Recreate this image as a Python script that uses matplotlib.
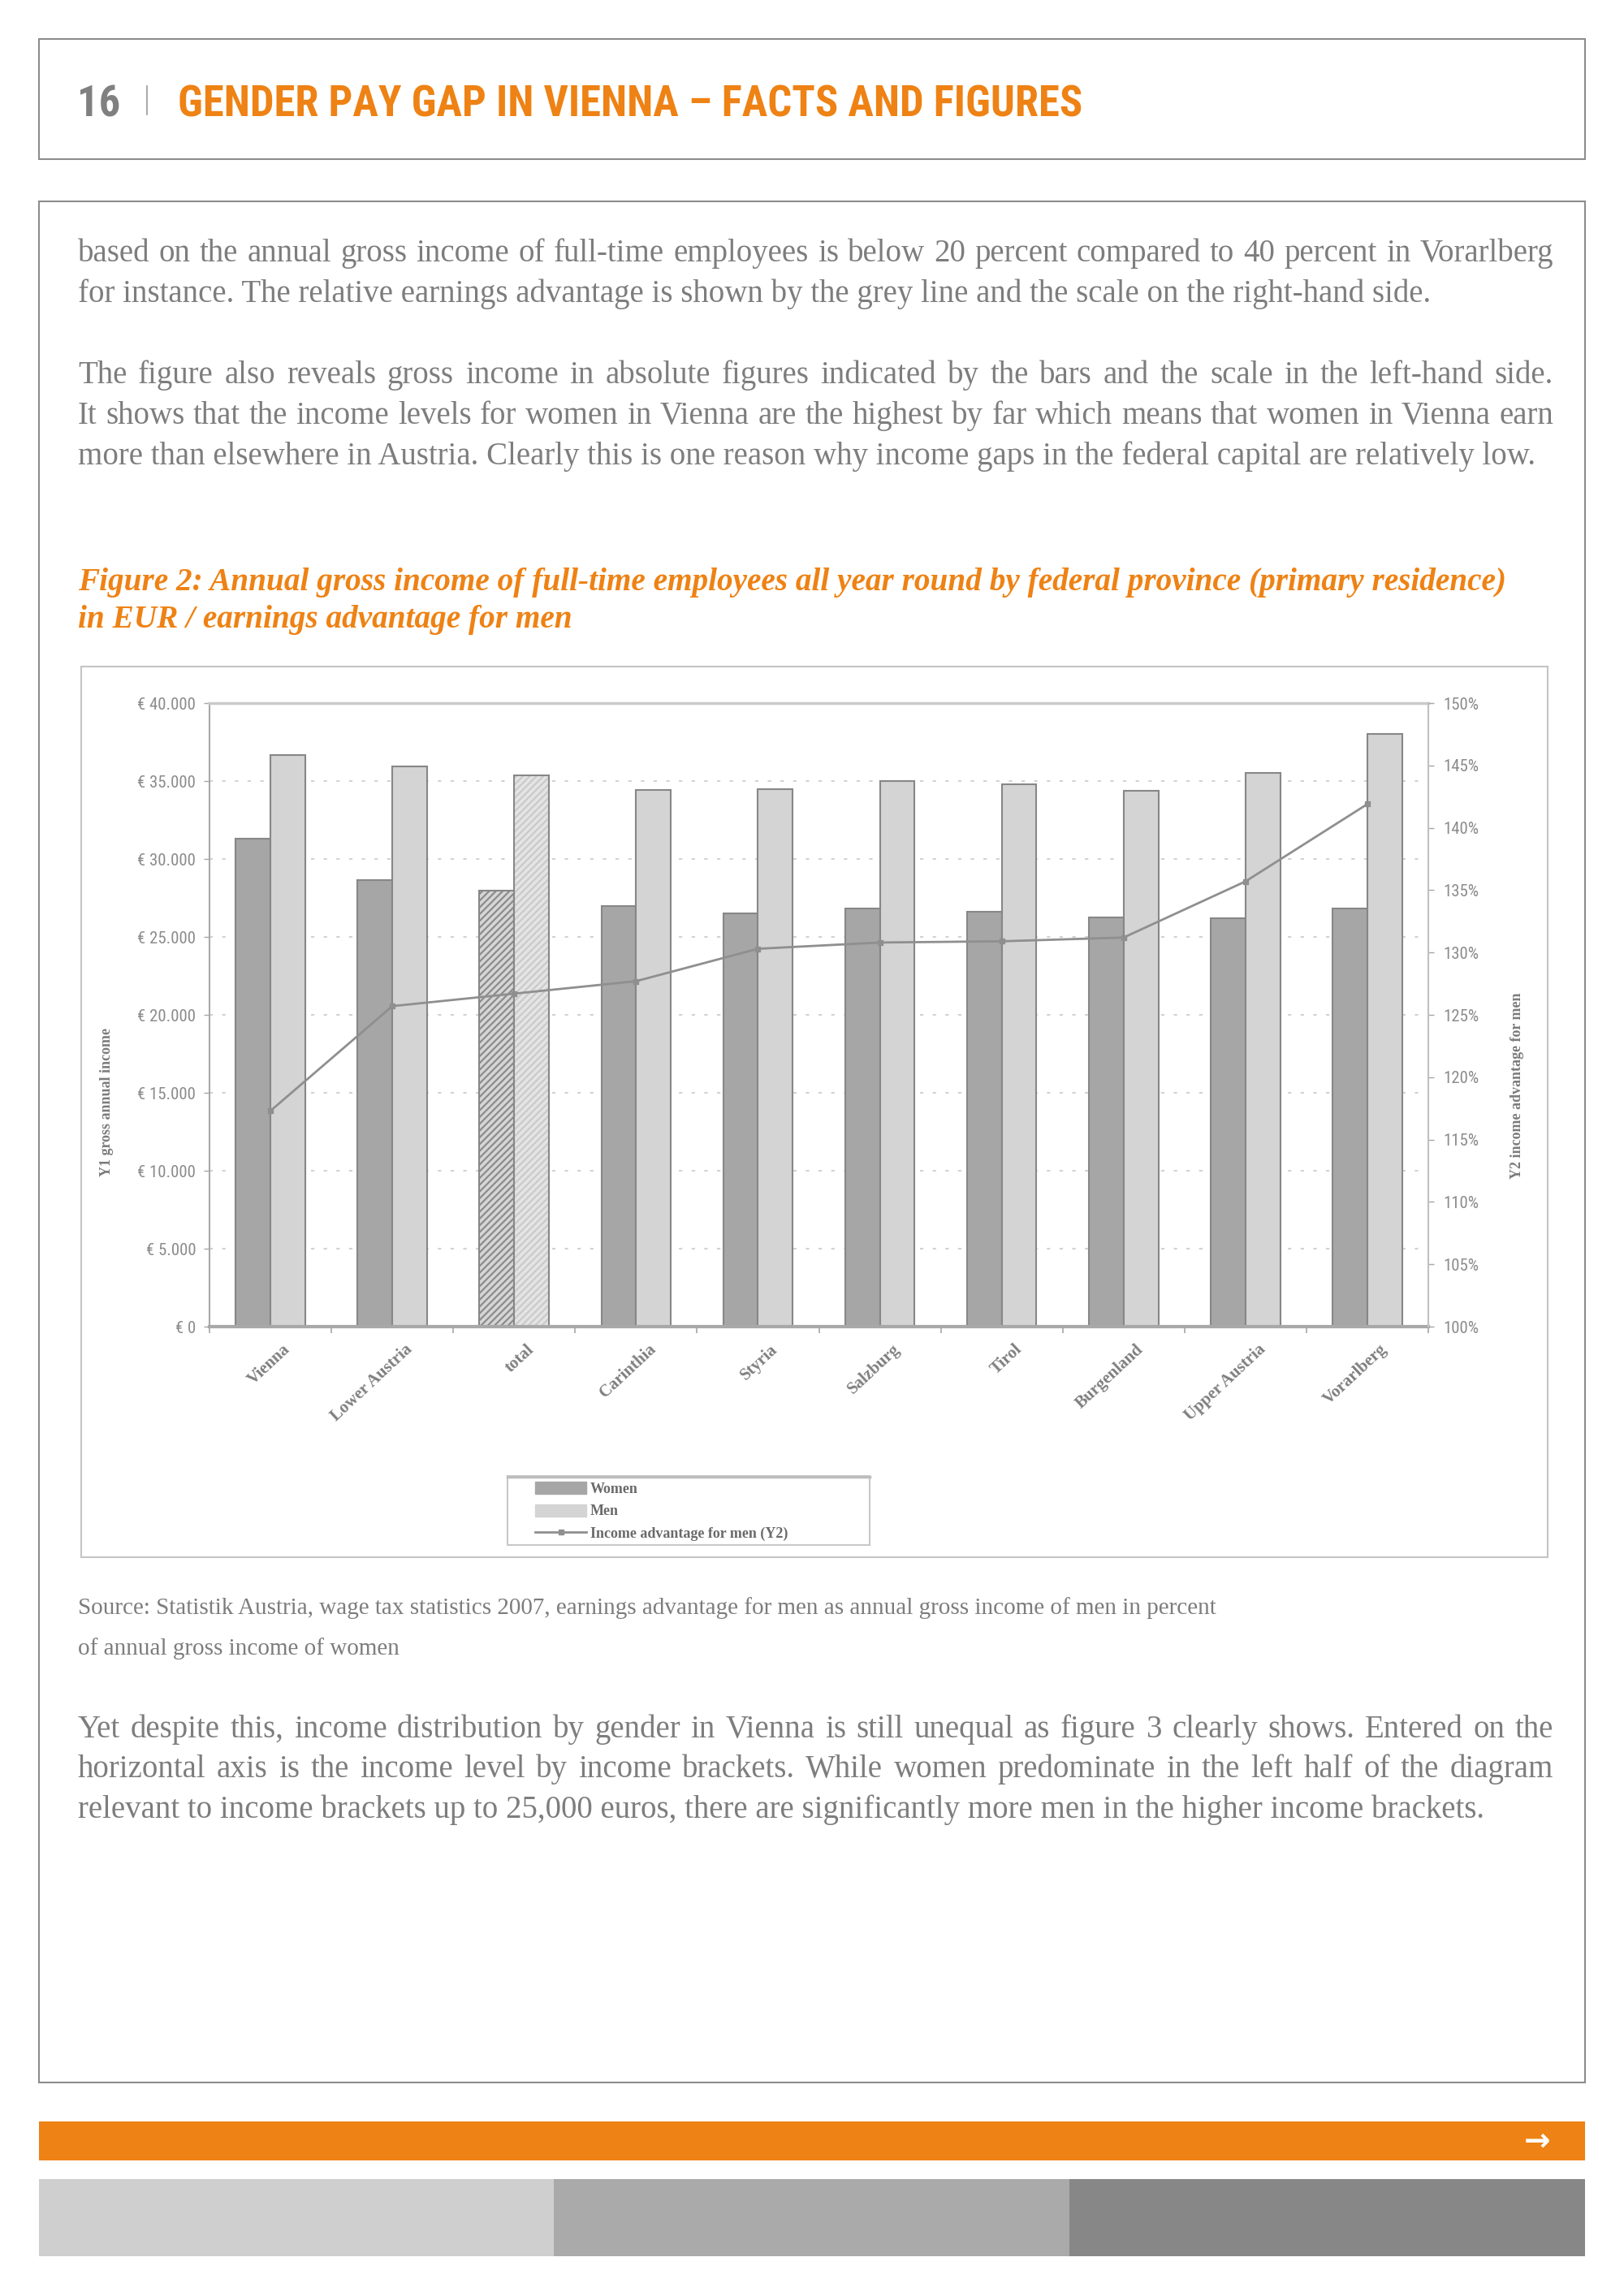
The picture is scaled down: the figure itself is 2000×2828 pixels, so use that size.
import numpy as np
import matplotlib
matplotlib.use('Agg')
import matplotlib.pyplot as plt
from matplotlib import font_manager
from matplotlib.patches import Rectangle, Patch
from matplotlib.lines import Line2D
from matplotlib.transforms import ScaledTranslation

W, H = 2000, 2828

# chart data
provinces = ['Vienna', 'Lower Austria', 'total', 'Carinthia', 'Styria',
             'Salzburg', 'Tirol', 'Burgenland', 'Upper Austria', 'Vorarlberg']
women = [31300, 28650, 27950, 27000, 26500, 26800, 26600, 26250, 26200, 26800]
men = [36650, 35950, 35350, 34450, 34500, 35000, 34800, 34350, 35500, 38000]
advantage = [117.3, 125.7, 126.7, 127.7, 130.3, 130.8, 130.9, 131.2, 135.7, 141.9]
y1_ticks = list(range(0, 40001, 5000))
y2_ticks = list(range(100, 151, 5))
legend_labels = ['Women', 'Men', 'Income advantage for men (Y2)']

# page text
header_num = '16'
header_title = 'GENDER PAY GAP IN VIENNA \u2013 FACTS AND FIGURES'
para1 = ['based on the annual gross income of full-time employees is below 20 percent compared to 40 percent in Vorarlberg',
         'for instance. The relative earnings advantage is shown by the grey line and the scale on the right-hand side.']
para2 = ['The figure also reveals gross income in absolute figures indicated by the bars and the scale in the left-hand side.',
         'It shows that the income levels for women in Vienna are the highest by far which means that women in Vienna earn',
         'more than elsewhere in Austria. Clearly this is one reason why income gaps in the federal capital are relatively low.']
caption = ['Figure 2: Annual gross income of full-time employees all year round by federal province (primary residence)',
           'in EUR / earnings advantage for men']
source = ['Source: Statistik Austria, wage tax statistics 2007, earnings advantage for men as annual gross income of men in percent',
          'of annual gross income of women']
para3 = ['Yet despite this, income distribution by gender in Vienna is still unequal as figure 3 clearly shows. Entered on the',
         'horizontal axis is the income level by income brackets. While women predominate in the left half of the diagram',
         'relevant to income brackets up to 25,000 euros, there are significantly more men in the higher income brackets.']

ORANGE = '#ee8214'
TEXT_GREY = '#7d7d7d'
SERIF = 'Liberation Serif'
installed = {f.name for f in font_manager.fontManager.ttflist}
NARROW = dict(family='DejaVu Sans', stretch='condensed')
for cand in ['Liberation Sans Narrow', 'Roboto Condensed', 'Noto Sans Condensed',
             'Open Sans Condensed']:
    if cand in installed:
        NARROW = dict(family=cand)
        break


def fx(x):
    return x / W


def fy(y):
    return 1 - y / H


def add_text(fig, x, y, s, **kw):
    return fig.text(fx(x), fy(y), s, **kw)


def text_width(fig, s, **kw):
    t = fig.text(0, 0, s, **kw)
    w = t.get_window_extent(fig.canvas.get_renderer()).width
    t.remove()
    return w


def fit_size(fig, s, target, **kw):
    """Font size that makes s exactly target pixels wide."""
    return 20 * target / text_width(fig, s, fontsize=20, **kw)


def justified(fig, line, x0, x1, y, **kw):
    words = line.split(' ')
    r = fig.canvas.get_renderer()
    texts = [add_text(fig, x0, y, w, va='baseline', **kw) for w in words]
    widths = [t.get_window_extent(r).width for t in texts]
    gap = (x1 - x0 - sum(widths)) / (len(words) - 1)
    x = x0
    for t, w in zip(texts, widths):
        t.set_x(fx(x))
        x += w + gap


def box(fig, x0, y0, x1, y1, **kw):
    fig.add_artist(Rectangle((fx(x0), fy(y1)), (x1 - x0) / W, (y1 - y0) / H,
                             transform=fig.transFigure, **kw))


def draw_page(fig):
    box(fig, 48, 48, 1952, 196, fill=False, edgecolor='#8c8c8c', lw=1.5)
    box(fig, 48, 248, 1952, 2565, fill=False, edgecolor='#8c8c8c', lw=1.5)
    box(fig, 100, 821, 1906, 1918, fill=False, edgecolor='#c4c4c4', lw=1.5)
    box(fig, 48, 2613, 1952, 2661, facecolor=ORANGE, edgecolor='none')
    for (a, b), c in zip([(48, 682), (682, 1317), (1317, 1952)],
                         ['#cfcfcf', '#aaaaab', '#878788']):
        box(fig, a, 2684, b, 2779, facecolor=c, edgecolor='none')
    add_text(fig, 1893, 2637, '\u2192', fontsize=28, fontweight='bold',
             color='white', ha='center', va='center', family='DejaVu Sans')

    # header
    hkw = dict(fontweight='bold', **NARROW)
    s = fit_size(fig, header_title, 1116, **hkw)
    add_text(fig, 95, 143, header_num, fontsize=s, color='#808080', va='baseline', **hkw)
    add_text(fig, 219, 143, header_title, fontsize=s, color=ORANGE, va='baseline', **hkw)
    fig.add_artist(Line2D([fx(181), fx(181)], [fy(106), fy(141)], color='#9a9a9a',
                          lw=1.2, transform=fig.transFigure))

    # body text
    x0, x1 = 96, 1913
    body = dict(family=SERIF, color=TEXT_GREY)
    bs = fit_size(fig, para2[-1], 1795, **body)
    justified(fig, para1[0], x0, x1, 322, fontsize=bs, **body)
    add_text(fig, x0, 372, para1[1], fontsize=bs, va='baseline', **body)
    justified(fig, para2[0], x0, x1, 472, fontsize=bs, **body)
    justified(fig, para2[1], x0, x1, 522, fontsize=bs, **body)
    add_text(fig, x0, 572, para2[2], fontsize=bs, va='baseline', **body)

    cap = dict(family=SERIF, color=ORANGE, fontweight='bold', style='italic')
    cs = fit_size(fig, caption[0], 1762, **cap)
    for line, y in zip(caption, [727, 773]):
        add_text(fig, x0, y, line, fontsize=cs, va='baseline', **cap)

    ss = fit_size(fig, source[0], 1404, **body)
    for line, y in zip(source, [1988, 2038]):
        add_text(fig, x0, y, line, fontsize=ss, va='baseline', **body)

    justified(fig, para3[0], x0, x1, 2140, fontsize=bs, **body)
    justified(fig, para3[1], x0, x1, 2189, fontsize=bs, **body)
    add_text(fig, x0, 2239, para3[2], fontsize=bs, va='baseline', **body)


def draw_chart(fig):
    plt.rcParams['hatch.linewidth'] = 1.6
    ax = fig.add_axes([fx(258), fy(1634), (1759 - 258) / W, (1634 - 866) / H])
    x = np.arange(len(provinces))
    bw = 0.285
    w = np.array(women)
    m = np.array(men)
    plain = np.array([p != 'total' for p in provinces])
    edge = '#878787'

    ax.bar(x[plain] - bw / 2, w[plain], bw, color='#a6a6a6', edgecolor=edge, lw=1.5, zorder=2)
    ax.bar(x[plain] + bw / 2, m[plain], bw, color='#d4d4d4', edgecolor=edge, lw=1.5, zorder=2)
    tot = ~plain
    ax.bar(x[tot] - bw / 2, w[tot], bw, color='#d6d6d6', edgecolor='#8c8c8c', hatch='////', lw=0, zorder=2)
    ax.bar(x[tot] - bw / 2, w[tot], bw, fill=False, edgecolor=edge, lw=1.5, zorder=2)
    ax.bar(x[tot] + bw / 2, m[tot], bw, color='#e4e4e4', edgecolor='#cacaca', hatch='////', lw=0, zorder=2)
    ax.bar(x[tot] + bw / 2, m[tot], bw, fill=False, edgecolor=edge, lw=1.5, zorder=2)

    ax.set_xlim(-0.5, len(provinces) - 0.5)
    ax.set_ylim(0, 40000)
    ax.set_yticks(y1_ticks, labels=[f'\u20ac {v:,}'.replace(',', '.') for v in y1_ticks])
    ax.yaxis.grid(True, linestyle=(0, (2, 5.5)), color='#d2d2d2', lw=1.5)
    ax.set_axisbelow(True)
    ax.tick_params(axis='y', length=5, width=1, color='#a6a6a6', pad=7,
                   labelsize=15, labelcolor='#8c8c8c')
    for lbl in ax.get_yticklabels():
        lbl.set_fontproperties(font_manager.FontProperties(size=15, **NARROW))

    ax.set_xticks(x, labels=provinces)
    ax.set_xticks(np.arange(-0.5, len(provinces)), minor=True)
    ax.tick_params(axis='x', which='major', length=0, pad=0)
    ax.tick_params(axis='x', which='minor', length=6, width=1.2, color='#a6a6a6')
    shift = ScaledTranslation(0.15, -0.18, fig.dpi_scale_trans)
    for lbl in ax.get_xticklabels():
        lbl.set(rotation=43, ha='right', va='top', rotation_mode='anchor',
                family=SERIF, fontweight='bold', fontsize=15, color='#7f7f7f')
        lbl.set_transform(lbl.get_transform() + shift)

    for side in ['left', 'top', 'bottom', 'right']:
        ax.spines[side].set_color('#a8a8a8')
    ax.spines['left'].set_linewidth(1.5)
    ax.spines['top'].set_color('#cacaca')
    ax.spines['top'].set_linewidth(2.5)
    ax.spines['bottom'].set_linewidth(3)
    ax.spines['right'].set_visible(False)

    ax.set_ylabel('Y1 gross annual income', family=SERIF, fontweight='bold',
                  fontsize=13, color='#7b7b7b', va='center')
    ax.yaxis.set_label_coords(-0.084, 0.36)

    ax2 = ax.twinx()
    ax2.plot(x, advantage, color='#8f8f8f', lw=2, marker='s', ms=4.5, zorder=5)
    ax2.set_ylim(100, 150)
    ax2.set_yticks(y2_ticks, labels=[f'{v}%' for v in y2_ticks])
    ax2.tick_params(axis='y', length=5, width=1, color='#a6a6a6', pad=8,
                    labelsize=15, labelcolor='#8c8c8c')
    for lbl in ax2.get_yticklabels():
        lbl.set_fontproperties(font_manager.FontProperties(size=15, **NARROW))
    for side in ['left', 'top', 'bottom']:
        ax2.spines[side].set_visible(False)
    ax2.spines['right'].set_color('#c0c0c0')
    ax2.spines['right'].set_linewidth(1.5)
    ax2.set_ylabel('Y2 income advantage for men', family=SERIF, fontweight='bold',
                   fontsize=13, color='#7b7b7b', rotation=90, va='center')
    ax2.yaxis.set_label_coords(1.073, 0.387)

    handles = [Patch(facecolor='#a6a6a6', edgecolor='#a6a6a6'),
               Patch(facecolor='#d4d4d4', edgecolor='#d4d4d4'),
               Line2D([], [], color='#8f8f8f', lw=2, marker='s', ms=4.5)]
    box(fig, 625, 1818, 1071, 1903, fill=False, edgecolor='#c8c8c8', lw=1.5)
    fig.add_artist(Line2D([fx(625), fx(1071)], [fy(1819), fy(1819)], color='#bdbdbd',
                          lw=2.5, transform=fig.transFigure))
    fig.legend(handles, legend_labels, loc='upper left',
               bbox_to_anchor=(fx(659), fy(1825)), frameon=False,
               borderpad=0, borderaxespad=0, handlelength=3.5, handleheight=0.9,
               handletextpad=0.25, labelspacing=0.55,
               prop=dict(family=SERIF, weight='bold', size=13),
               labelcolor='#6a6a6a')


def main():
    fig = plt.figure(figsize=(W / 100, H / 100), dpi=100)
    fig.patch.set_facecolor('white')
    draw_page(fig)
    draw_chart(fig)
    fig.savefig('out.png', dpi=100)


if __name__ == '__main__':
    main()
